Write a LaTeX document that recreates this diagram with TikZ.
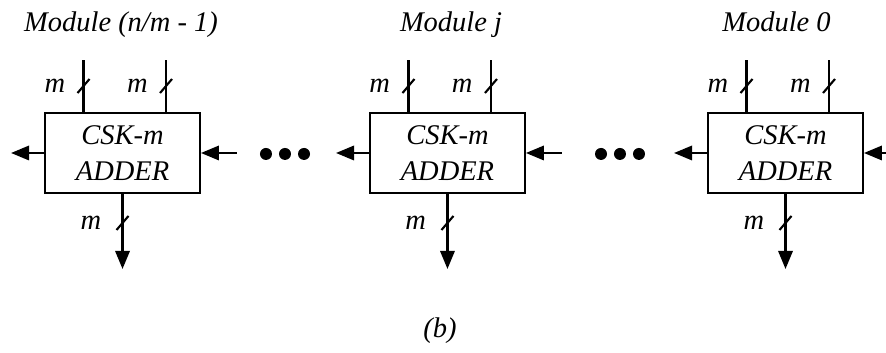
\documentclass[tikz,border=0pt]{standalone}
\usepackage{fontspec}
\setmainfont{Liberation Serif}
\usetikzlibrary{arrows.meta, positioning, calc}

\begin{document}
\begin{tikzpicture}[
  font=\fontsize{13.5}{17}\selectfont\itshape,
  >={Triangle[length=3mm, width=2.4mm]},
  wire/.style={line width=1pt},
  adder/.style={draw, line width=1pt, minimum width=25.8mm,
                minimum height=13.3mm, align=center, inner sep=0pt},
  busmark/.style={line width=1pt},
  buslbl/.style={inner sep=0pt, anchor=east},
  ttl/.style={anchor=base, inner sep=0pt},
]
\useasboundingbox (0,0) rectangle (14.767,5.883);
\clip (0,0) rectangle (14.767,5.883);

% ============================== the three modules ============================
% Each adder takes two m-bit inputs from above, gives m bits below, and passes
% its carry to the left.
\foreach \k/\cx/\tx/\mname in {a/2.042/2.017/{Module (n/m - 1)},
                               b/7.458/7.517/{Module j},
                               c/13.092/12.942/{Module 0}}
{
  \node[adder] (box\k) at (\cx,3.333) {CSK-m\\ADDER};
  \node[ttl] (ttl\k) at (\tx,5.35) {\mname};

  % --- the two inputs ---
  \coordinate (inA\k) at ($(box\k.north)+(-0.65,0.867)$);
  \coordinate (inB\k) at ($(box\k.north)+(0.725,0.867)$);
  \draw[wire] (inA\k) -- coordinate[pos=0.5] (sA\k) (inA\k |- box\k.north);
  \draw[wire] (inB\k) -- coordinate[pos=0.5] (sB\k) (inB\k |- box\k.north);

  % --- the sum bits ---
  \coordinate (out\k) at ($(box\k.south)+(0,-1.25)$);
  \draw[wire, ->] (box\k.south) -- coordinate[pos=0.387] (sC\k) (out\k);

  % bus marks and their widths
  \foreach \s in {A,B,C}
    \draw[busmark] ($(s\s\k)+(-0.1,-0.117)$) -- ($(s\s\k)+(0.1,0.117)$);
  \node[buslbl] (mA\k) at ($(sA\k)+(-0.3,0)$) {m};
  \node[buslbl] (mB\k) at ($(sB\k)+(-0.3,0)$) {m};
  \node[buslbl] (mC\k) at ($(sC\k)+(-0.35,0)$) {m};

  % --- carry out and carry in ---
  \coordinate (cout\k) at ($(box\k.west)+(-0.55,0)$);
  \coordinate (cin\k) at ($(box\k.east)+(0.6,0)$);
  \draw[wire, ->] (box\k.west) -- (cout\k);
  \draw[wire, ->] (cin\k) -- (box\k.east);
}

% the modules left out
\foreach \dx in {4.433, 4.75, 5.067, 10.017, 10.333, 10.65}
  \fill (\dx,3.317) circle (0.1);

\node[ttl] (cap) at (7.333,0.25) {(b)};
\end{tikzpicture}
\end{document}
